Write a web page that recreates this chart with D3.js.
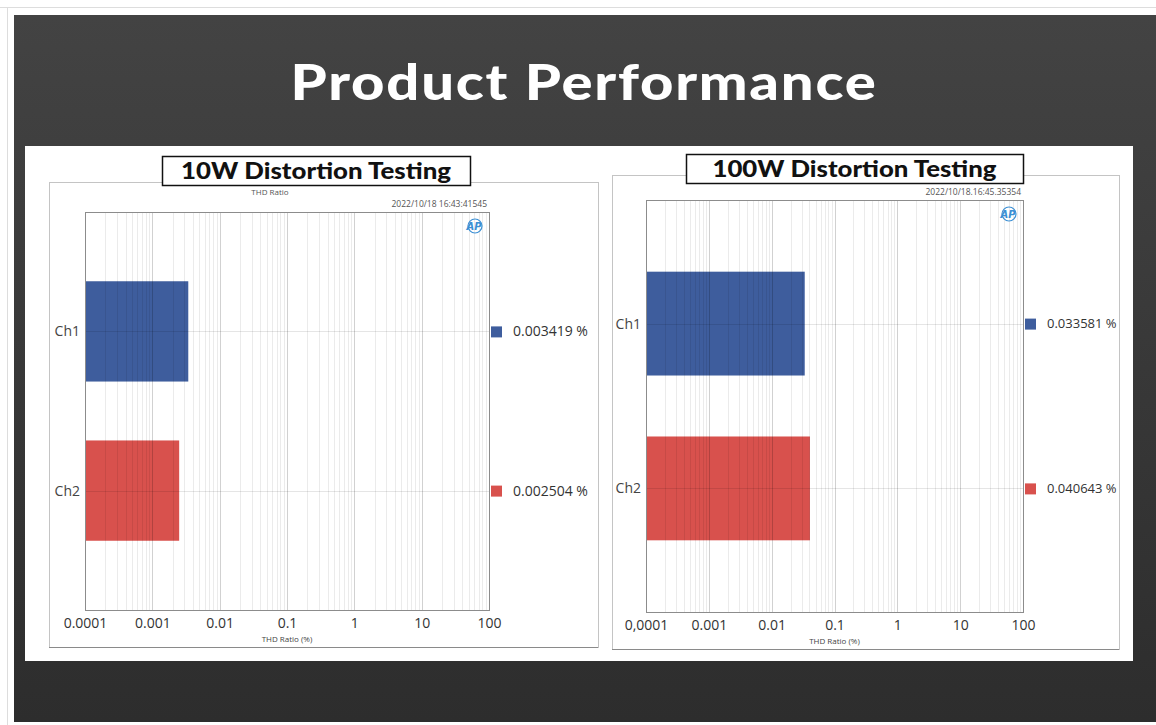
<!doctype html>
<html lang="en">
  <head>
    <meta charset="utf-8">
    <title>Product Performance</title>
    <script src="https://d3js.org/d3.v7.min.js"></script>
    <style>
      body { margin: 0; background: #fff; }
      svg { display: block; }
    </style>
  </head>

  <body>
    <svg width="1156" height="725"></svg>
    <script>
      // data
      var categories = ['Ch1', 'Ch2'];
      var thd10W = [0.003419, 0.002504];
      var thd100W = [0.033581, 0.040643];
      var tickValues = [0.0001, 0.001, 0.01, 0.1, 1, 10, 100];
      var tickLabels10W = ['0.0001', '0.001', '0.01', '0.1', '1', '10', '100'];
      var tickLabels100W = ['0,0001', '0.001', '0.01', '0.1', '1', '10', '100'];
      var seriesColors = ['#3e5d9d', '#d8514d'];

      var svg = d3.select('svg');
      var defs = svg.append('defs');

      var bg = defs.append('linearGradient').attr('id', 'bg')
        .attr('x1', 0).attr('y1', 0).attr('x2', 0).attr('y2', 1);
      bg.append('stop').attr('offset', '0%').attr('stop-color', '#434343');
      bg.append('stop').attr('offset', '100%').attr('stop-color', '#2d2d2d');

      // page frame
      svg.append('line').attr('x1', 0).attr('x2', 1156).attr('y1', 7.5).attr('y2', 7.5)
        .attr('stroke', '#ddd');
      svg.append('line').attr('x1', 7.5).attr('x2', 7.5).attr('y1', 7).attr('y2', 725)
        .attr('stroke', '#ddd');
      svg.append('rect').attr('x', 14).attr('y', 15).attr('width', 1142).attr('height', 707)
        .attr('fill', 'url(#bg)');

      svg.append('text')
        .attr('x', 584).attr('y', 100)
        .attr('text-anchor', 'middle')
        .attr('textLength', 587).attr('lengthAdjust', 'spacingAndGlyphs')
        .style('font-family', 'Lato, sans-serif')
        .style('font-weight', 900)
        .style('font-size', '49px')
        .style('letter-spacing', '1.5px')
        .style('fill', '#fff')
        .text('Product Performance');

      svg.append('rect').attr('x', 25).attr('y', 146).attr('width', 1108).attr('height', 515)
        .attr('fill', '#fff');

      var charts = [
        {
          title: '10W Distortion Testing', values: thd10W, labels: tickLabels10W,
          topTitle: 'THD Ratio', stamp: '2022/10/18 16:43:41545',
          frame: {x: 49, y: 182, w: 549, h: 465},
          plot: {x0: 85, x1: 489, y0: 212, y1: 610},
          box: {x: 162, y: 156, w: 308, h: 29, text: 270},
          legendX: 491, catX: 80, legendFont: 14
        },
        {
          title: '100W Distortion Testing', values: thd100W, labels: tickLabels100W,
          topTitle: '', stamp: '2022/10/18.16:45.35354',
          frame: {x: 612, y: 175, w: 507, h: 474},
          plot: {x0: 646, x1: 1023, y0: 200, y1: 612},
          box: {x: 686, y: 154, w: 337, h: 29, text: 284},
          legendX: 1025, catX: 641, legendFont: 13
        }
      ];

      var drawChart = function(c){
        var g = svg.append('g');
        var p = c.plot;

        g.append('rect')
          .attr('x', c.frame.x + 0.5).attr('y', c.frame.y + 0.5)
          .attr('width', c.frame.w).attr('height', c.frame.h)
          .attr('fill', '#fff').attr('stroke', '#c4c4c4');
        g.append('line')
          .attr('x1', c.frame.x).attr('x2', c.frame.x + c.frame.w)
          .attr('y1', c.frame.y + c.frame.h + 0.5).attr('y2', c.frame.y + c.frame.h + 0.5)
          .attr('stroke', '#8a8a8a');

        var x = d3.scaleLog().domain([0.0001, 100]).range([p.x0, p.x1]);
        var y = d3.scaleBand().domain(categories).range([p.y0, p.y1])
          .paddingInner(0.37).paddingOuter(0.435);

        // bars
        g.selectAll('rect.bar').data(c.values).enter()
          .append('rect').attr('class', 'bar')
            .attr('x', x(0.0001))
            .attr('y', function(d, i){ return y(categories[i]); })
            .attr('width', function(d){ return x(d) - x(0.0001); })
            .attr('height', y.bandwidth())
            .attr('fill', function(d, i){ return seriesColors[i]; });

        // log grid, drawn over the bars
        var minor = [];
        for (var e = -4; e < 2; e++) {
          for (var m = 2; m < 10; m++) minor.push(m * Math.pow(10, e));
        }
        g.selectAll('line.minor').data(minor).enter()
          .append('line').attr('class', 'minor')
            .attr('x1', function(d){ return Math.round(x(d)) + 0.5; })
            .attr('x2', function(d){ return Math.round(x(d)) + 0.5; })
            .attr('y1', p.y0).attr('y2', p.y1)
            .attr('stroke', 'rgba(0,0,0,0.08)');
        g.selectAll('line.major').data(tickValues).enter()
          .append('line').attr('class', 'major')
            .attr('x1', function(d){ return Math.round(x(d)) + 0.5; })
            .attr('x2', function(d){ return Math.round(x(d)) + 0.5; })
            .attr('y1', p.y0).attr('y2', p.y1)
            .attr('stroke', 'rgba(0,0,0,0.18)');
        g.selectAll('line.hgrid').data(categories).enter()
          .append('line').attr('class', 'hgrid')
            .attr('x1', p.x0).attr('x2', p.x1)
            .attr('y1', function(d){ return Math.round(y(d) + y.bandwidth() / 2) + 0.5; })
            .attr('y2', function(d){ return Math.round(y(d) + y.bandwidth() / 2) + 0.5; })
            .attr('stroke', 'rgba(0,0,0,0.1)');

        g.append('rect')
          .attr('x', p.x0 + 0.5).attr('y', p.y0 + 0.5)
          .attr('width', p.x1 - p.x0).attr('height', p.y1 - p.y0)
          .attr('fill', 'none').attr('stroke', '#8c8c8c');

        // x axis labels
        var axis = d3.axisBottom(x).tickValues(tickValues).tickSize(0)
          .tickFormat(function(d, i){ return c.labels[i]; });
        var ax = g.append('g').attr('transform', 'translate(0,' + (p.y1 + 5) + ')').call(axis);
        ax.select('.domain').remove();
        ax.selectAll('text')
          .style('font-family', '"Open Sans", sans-serif')
          .style('font-size', '14px')
          .style('fill', '#333');
        g.append('text')
          .attr('x', (p.x0 + p.x1) / 2).attr('y', p.y1 + 32)
          .attr('text-anchor', 'middle')
          .style('font-family', '"Open Sans", sans-serif')
          .style('font-size', '8px').style('fill', '#444')
          .text('THD Ratio (%)');

        // category labels
        g.selectAll('text.cat').data(categories).enter()
          .append('text').attr('class', 'cat')
            .attr('x', c.catX)
            .attr('y', function(d){ return y(d) + y.bandwidth() / 2; })
            .attr('dy', '0.35em')
            .attr('text-anchor', 'end')
            .style('font-family', '"Open Sans", sans-serif')
            .style('font-size', '14px').style('fill', '#444')
            .text(function(d){ return d; });

        // legend with readings
        var leg = g.selectAll('g.leg').data(c.values).enter()
          .append('g').attr('class', 'leg')
            .attr('transform', function(d, i){
              return 'translate(' + c.legendX + ',' + (y(categories[i]) + y.bandwidth() / 2) + ')';
            });
        leg.append('rect')
          .attr('x', 0).attr('y', -5).attr('width', 11).attr('height', 11)
          .attr('fill', function(d, i){ return seriesColors[i]; });
        leg.append('text')
          .attr('x', 22).attr('dy', '0.35em')
          .style('font-family', '"Open Sans", sans-serif')
          .style('font-size', c.legendFont + 'px').style('fill', '#333')
          .text(function(d){ return d.toFixed(6) + ' %'; });

        // small header texts
        if (c.topTitle) {
          g.append('text')
            .attr('x', (p.x0 + p.x1) / 2 - 17).attr('y', p.y0 - 17)
            .attr('text-anchor', 'middle')
            .style('font-family', '"Open Sans", sans-serif')
            .style('font-size', '8px').style('fill', '#555')
            .text(c.topTitle);
        }
        g.append('text')
          .attr('x', p.x1 - 2).attr('y', p.y0 - 5)
          .attr('text-anchor', 'end')
          .style('font-family', '"Open Sans", sans-serif')
          .style('font-size', '8.5px').style('fill', '#555')
          .text(c.stamp);

        // AP logo
        var logo = g.append('g').attr('transform', 'translate(' + (p.x1 - 14) + ',' + (p.y0 + 14) + ')');
        logo.append('circle').attr('r', 7).attr('fill', 'none')
          .attr('stroke', '#3b8fd4').attr('stroke-width', 1.2);
        logo.append('text').attr('x', -1).attr('dy', '0.35em').attr('text-anchor', 'middle')
          .style('font-family', '"DejaVu Sans", sans-serif').style('font-size', '10px')
          .style('font-style', 'italic').style('font-weight', 'bold')
          .style('fill', '#3b8fd4').text('AP');

        // title box
        g.append('rect')
          .attr('x', c.box.x + 0.5).attr('y', c.box.y + 0.5)
          .attr('width', c.box.w).attr('height', c.box.h)
          .attr('fill', '#fff').attr('stroke', '#111').attr('stroke-width', 1.5);
        g.append('text')
          .attr('x', c.box.x + c.box.w / 2).attr('y', c.box.y + c.box.h / 2 + 8)
          .attr('text-anchor', 'middle')
          .attr('textLength', c.box.text).attr('lengthAdjust', 'spacingAndGlyphs')
          .style('font-family', 'Lato, sans-serif')
          .style('font-weight', 900)
          .style('font-size', '23px').style('fill', '#111')
          .text(c.title);
      };

      charts.forEach(drawChart);
    </script>
  </body>
</html>
